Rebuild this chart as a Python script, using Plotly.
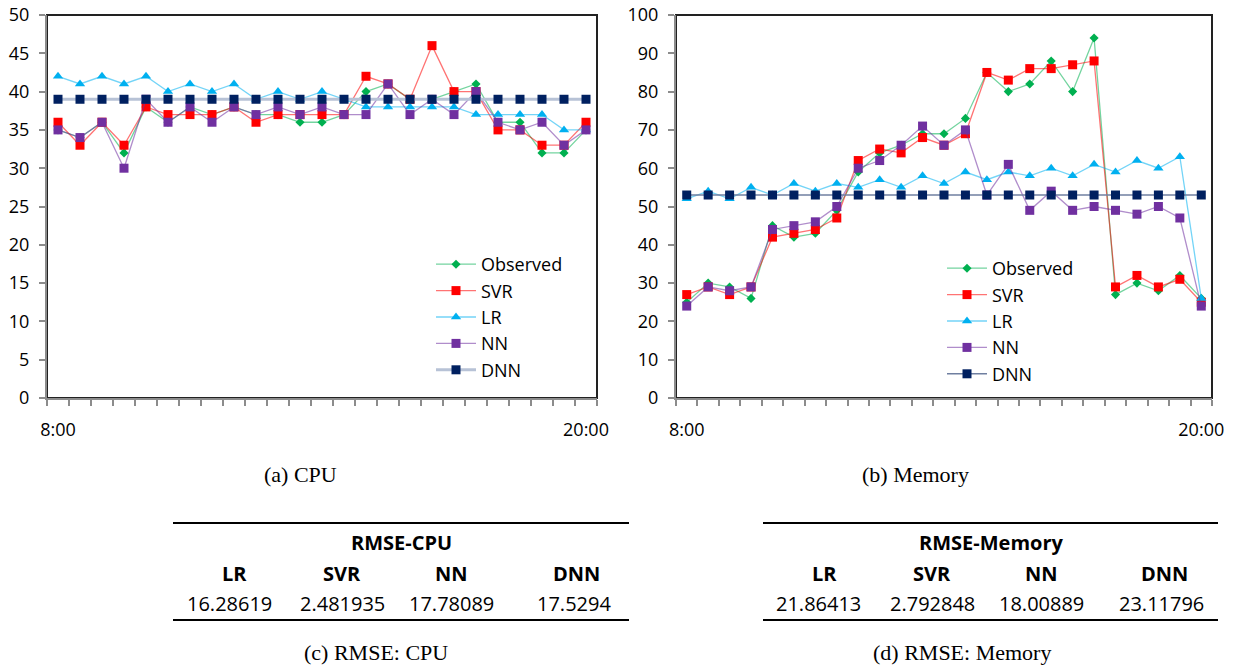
import plotly.graph_objects as go

W, H = 1240, 669

# --- data: 25 half-hourly samples from 8:00 to 20:00 ---
n_points = 25
slots = list(range(n_points))
x_labels = ["8:00", "20:00"]

series_names = ["Observed", "SVR", "LR", "NN", "DNN"]

cpu_observed = [35, 34, 36, 32, 38, 36, 38, 37, 38, 37, 37, 36, 36, 37, 40, 41, 39, 39, 40, 41, 36, 36, 32, 32, 35]
cpu_svr = [36, 33, 36, 33, 38, 37, 37, 37, 38, 36, 37, 37, 37, 37, 42, 41, 39, 46, 40, 40, 35, 35, 33, 33, 36]
cpu_lr = [42, 41, 42, 41, 42, 40, 41, 40, 41, 39, 40, 39, 40, 39, 38, 38, 38, 38, 38, 37, 37, 37, 37, 35, 35]
cpu_nn = [35, 34, 36, 30, 39, 36, 38, 36, 38, 37, 38, 37, 38, 37, 37, 41, 37, 39, 37, 40, 36, 35, 36, 33, 35]
cpu_dnn = [39] * n_points

mem_observed = [25, 30, 29, 26, 45, 42, 43, 49, 59, 64, 66, 69, 69, 73, 85, 80, 82, 88, 80, 94, 27, 30, 28, 32, 26]
mem_svr = [27, 29, 27, 29, 42, 43, 44, 47, 62, 65, 64, 68, 66, 69, 85, 83, 86, 86, 87, 88, 29, 32, 29, 31, 25]
mem_lr = [52, 54, 52, 55, 53, 56, 54, 56, 55, 57, 55, 58, 56, 59, 57, 59, 58, 60, 58, 61, 59, 62, 60, 63, 26]
mem_nn = [24, 29, 28, 29, 44, 45, 46, 50, 60, 62, 66, 71, 66, 70, 53, 61, 49, 54, 49, 50, 49, 48, 50, 47, 24]
mem_dnn = [53] * n_points

rmse_models = ["LR", "SVR", "NN", "DNN"]
rmse_cpu = ["16.28619", "2.481935", "17.78089", "17.5294"]
rmse_mem = ["21.86413", "2.792848", "18.00889", "23.11796"]

# --- styling ---
SANS = "Open Sans"
SERIF = "Liberation Serif"
AXIS_GREY = "#8c8c8c"

marker_colors = ["#00B050", "#FF0000", "#00B0F0", "#7030A0", "#002060"]
line_colors = ["rgba(0,176,80,0.55)", "rgba(255,0,0,0.55)", "rgba(0,176,240,0.55)",
               "rgba(112,48,160,0.55)", None]
symbols = ["diamond", "square", "triangle-up", "square", "square"]
sizes = [7, 9, 9, 9, 9]


def px_x(p):
    return p / W


def px_y(p):
    return 1 - p / H


fig = go.Figure()


def add_panel(values, xa, ya, legend, dnn_line):
    for i, (name, ys) in enumerate(zip(series_names, values)):
        lc = line_colors[i] if line_colors[i] else dnn_line[0]
        lw = 1.3 if line_colors[i] else dnn_line[1]
        fig.add_trace(go.Scatter(
            x=slots, y=ys, name=name, mode="lines+markers",
            xaxis=xa, yaxis=ya, legend=legend,
            line=dict(color=lc, width=lw),
            marker=dict(symbol=symbols[i], size=sizes[i], color=marker_colors[i],
                        line=dict(width=0)),
        ))


add_panel([cpu_observed, cpu_svr, cpu_lr, cpu_nn, cpu_dnn], "x", "y", "legend", ("#b7c2d6", 3))
add_panel([mem_observed, mem_svr, mem_lr, mem_nn, mem_dnn], "x2", "y2", "legend2", ("#6f7fa0", 1.5))

y_dom = [px_y(398), px_y(15)]
minor_ticks = [k - 0.5 for k in range(n_points + 1)]


def xaxis_cfg(left, right, anchor):
    return dict(
        domain=[px_x(left), px_x(right)], anchor=anchor, automargin=False,
        range=[-0.5, n_points - 0.5], showgrid=False, zeroline=False,
        showline=True, linecolor=AXIS_GREY, linewidth=2,
        tickmode="array", tickvals=[0, n_points - 1], ticktext=x_labels,
        ticks="", ticklabelstandoff=14,
        tickfont=dict(family=SANS, size=18, color="black"),
        minor=dict(tickmode="array", tickvals=minor_ticks, ticks="outside",
                   ticklen=6, tickwidth=1.5, tickcolor=AXIS_GREY, showgrid=False),
    )


def yaxis_cfg(anchor, top, step):
    return dict(
        domain=y_dom, anchor=anchor, automargin=False, range=[0, top], dtick=step,
        tick0=0, showgrid=False, zeroline=False, showline=True, linecolor=AXIS_GREY,
        linewidth=2, ticks="outside", ticklen=6, tickwidth=1.5, tickcolor=AXIS_GREY,
        ticklabelstandoff=6, tickfont=dict(family=SANS, size=18, color="black"),
    )


legend_common = dict(
    font=dict(family=SANS, size=18, color="black"), bgcolor="rgba(0,0,0,0)",
    xanchor="left", yanchor="top", itemwidth=40, tracegroupgap=0,
)

fig.update_layout(
    width=W, height=H, margin=dict(l=0, r=0, t=0, b=0, autoexpand=False),
    paper_bgcolor="white", plot_bgcolor="white",
    xaxis=xaxis_cfg(47, 597, "y"),
    yaxis=yaxis_cfg("x", 50, 5),
    xaxis2=xaxis_cfg(676, 1212, "y2"),
    yaxis2=yaxis_cfg("x2", 100, 10),
    legend=dict(x=px_x(431), y=px_y(246), **legend_common),
    legend2=dict(x=px_x(942), y=px_y(250), **legend_common),
    showlegend=True,
)

# chart frames (top and right edges are dark; axes overlay the left/bottom)
for left, right in [(47, 597), (676, 1212)]:
    fig.add_shape(type="rect", xref="paper", yref="paper",
                  x0=px_x(left), x1=px_x(right), y0=px_y(398), y1=px_y(15),
                  line=dict(color="#222222", width=2), layer="below")


def text(s, x, y, size=18, family=SANS, bold=False):
    fig.add_annotation(
        text=f"<b>{s}</b>" if bold else s, x=px_x(x), y=px_y(y),
        xref="paper", yref="paper", xanchor="center", yanchor="middle",
        showarrow=False, font=dict(family=family, size=size, color="black"),
    )


text("(a) CPU", 300, 474, size=22, family=SERIF)
text("(b) Memory", 915, 474, size=22, family=SERIF)


def rmse_table(left, right, title, header_x, value_x, values, caption, cap_x):
    for yy in (523, 620):
        fig.add_shape(type="line", xref="paper", yref="paper",
                      x0=px_x(left), x1=px_x(right), y0=px_y(yy), y1=px_y(yy),
                      line=dict(color="black", width=2))
    text(title, (left + right) / 2, 542, size=20, bold=True)
    for m, hx in zip(rmse_models, header_x):
        text(m, hx, 573, size=20, bold=True)
    for v, vx in zip(values, value_x):
        text(v, vx, 603, size=20)
    text(caption, cap_x, 652, size=22, family=SERIF)


rmse_table(173, 629, "RMSE-CPU", [234, 342, 451, 576], [229, 342, 451, 574],
           rmse_cpu, "(c) RMSE: CPU", 376)
rmse_table(763, 1218, "RMSE-Memory", [824, 932, 1041, 1164], [818, 932, 1041, 1161],
           rmse_mem, "(d) RMSE: Memory", 962)

fig.write_html("out.html")
